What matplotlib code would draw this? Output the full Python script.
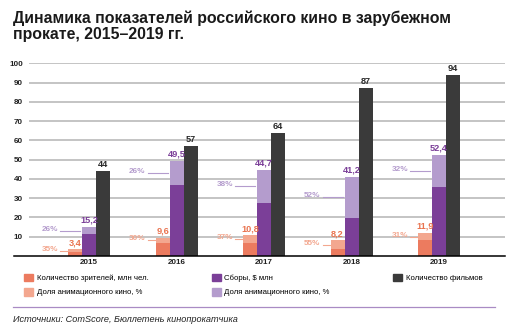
import numpy as np
import matplotlib
matplotlib.use("Agg")
import matplotlib.pyplot as plt
from matplotlib.lines import Line2D
from matplotlib.patches import Patch

plt.rcParams['font.family'] = ['Liberation Sans', 'DejaVu Sans']

years = ["2015", "2016", "2017", "2018", "2019"]
viewers = [3.4, 9.6, 10.8, 8.2, 11.9]          # млн чел.
viewers_anim = [35, 30, 37, 55, 31]           # %
boxoffice = [15.2, 49.5, 44.7, 41.2, 52.4]     # $ млн
boxoffice_anim = [26, 26, 38, 52, 32]         # %
films = [44, 57, 64, 87, 94]
viewers_lbl = ["3,4", "9,6", "10,8", "8,2", "11,9"]
boxoffice_lbl = ["15,2", "49,5", "44,7", "41,2", "52,4"]

c_or = "#EC7B5F"
c_or_l = "#F3A78F"
c_pu = "#7B3F98"
c_pu_l = "#B49CCD"
c_dk = "#3A3A3A"

fig = plt.figure(figsize=(5.32, 3.35), dpi=100)
ax = fig.add_axes([29/532, 1-256/335, 476/532, (256-63.3)/335])

x = np.arange(len(years))
w = 0.16
v = np.array(viewers)
va_ = np.array(viewers_anim) / 100
b = np.array(boxoffice)
ba = np.array(boxoffice_anim) / 100

ax.bar(x - w, v * (1 - va_), w, color=c_or, zorder=3)
ax.bar(x - w, v * va_, w, bottom=v * (1 - va_), color=c_or_l, zorder=3)
ax.bar(x, b * (1 - ba), w, color=c_pu, zorder=3)
ax.bar(x, b * ba, w, bottom=b * (1 - ba), color=c_pu_l, zorder=3)
ax.bar(x + w, films, w, color=c_dk, zorder=3)

lab = dict(fontsize=6.6, fontweight="bold", ha="center", va="bottom")
for i in range(len(years)):
    ax.annotate(viewers_lbl[i], (x[i] - w, v[i]), xytext=(0, 1.5), textcoords="offset points", color="#E9734F", **lab)
    ax.annotate(boxoffice_lbl[i], (x[i], b[i]), xytext=(0, 1.5), textcoords="offset points", color=c_pu, **lab)
    ax.annotate(str(films[i]), (x[i] + w, films[i]), xytext=(0, 1.5), textcoords="offset points", color="#2b2b2b", **lab)

    # доли анимации: подпись + выноска
    px = 1 / 87.5
    tx = x[i] - 1.5 * w - 10 * px
    yo = v[i] * (1 - va_[i]) + v[i] * va_[i] / 2
    yp = b[i] * (1 - ba[i]) + b[i] * ba[i] / 2
    ax.plot([tx + 2 * px, x[i] - 1.5 * w - 1 * px], [yo, yo], color=c_or_l, lw=0.8, zorder=3)
    ax.plot([tx + 2 * px, x[i] - 0.5 * w - 2 * px], [yp, yp], color=c_pu_l, lw=0.8, zorder=3)
    ax.text(tx, yo, f"{viewers_anim[i]}%", color=c_or_l, fontsize=5.9, fontweight="bold", ha="right", va="baseline")
    ax.text(tx, yp, f"{boxoffice_anim[i]}%", color=c_pu_l, fontsize=5.9, fontweight="bold", ha="right", va="baseline")

ax.set_xlim(-0.686, 4.754)
ax.set_ylim(0, 100)
ax.set_yticks(range(10, 101, 10))
ax.set_xticks(x)
ax.set_xticklabels(years)
ax.tick_params(axis="y", length=0, pad=4.3, labelsize=5.8, labelcolor="#222222")
ax.tick_params(axis="x", length=0, pad=2.5, labelsize=5.8, labelcolor="#222222")
for t in ax.get_yticklabels() + ax.get_xticklabels():
    t.set_fontweight("bold")
ax.grid(axis="y", color="#C4C4C4", lw=1.4, zorder=0)
for s in ax.spines.values():
    s.set_visible(False)
ax.plot([-0.857, 4.754], [0, 0], color="black", lw=1.1, clip_on=False, zorder=4)

handles = [Patch(color=c_or), Patch(color=c_or_l), Patch(color=c_pu), Patch(color=c_pu_l), Patch(color=c_dk)]
labels = ["Количество зрителей, млн чел.", "Доля анимационного кино, %",
          "Сборы, $ млн", "Доля анимационного кино, %", "Количество фильмов"]
fig.legend(handles, labels, ncol=3, loc="upper left", bbox_to_anchor=(24/532, 1-273.5/335),
           frameon=False, fontsize=5.6, handlelength=1.15, handleheight=1.15,
           handletextpad=0.5, labelspacing=0.75, columnspacing=8.1, borderpad=0, borderaxespad=0)

fig.add_artist(Line2D([13/532, 495/532], [1-306.7/335]*2, color="#A98BC4", lw=0.9))
fig.text(13/532, 1-320/335, "Источники: ComScore, Бюллетень кинопрокатчика", fontsize=6.55,
         style="italic", va="center", color="#222222")
fig.text(13/532, 1-10/335, "Динамика показателей российского кино в зарубежном\nпрокате, 2015–2019 гг.",
         fontsize=11.4, fontweight="bold", va="top", linespacing=1.1, color="#1a1a1a")

fig.savefig("out.png", dpi=100)
